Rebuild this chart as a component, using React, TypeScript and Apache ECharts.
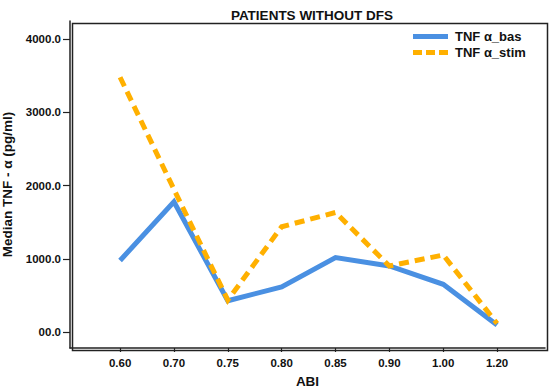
import React, { useEffect, useRef } from "react";
import * as echarts from "echarts";

const categories = ["0.60", "0.70", "0.75", "0.80", "0.85", "0.90", "1.00", "1.20"];
const basValues = [980, 1780, 430, 620, 1020, 905, 655, 100];
const stimValues = [3480, 1950, 440, 1440, 1635, 905, 1055, 120];
const yTicks = [0, 1000, 2000, 3000, 4000];

const FONT = "Liberation Sans, Arial, sans-serif";
const AXIS_COLOR = "#222";
const GRID = { left: 70, right: 5, top: 21, bottom: 43 };
const W = 550;
const H = 391;

export default function App() {
  const ref = useRef<HTMLDivElement>(null);
  useEffect(() => {
    if (!ref.current) return;
    const chart = echarts.init(ref.current, undefined, { renderer: "svg", width: W, height: H });
    const idx = categories.map((_, i) => i);
    chart.setOption({
      animation: false,
      backgroundColor: "#ffffff",
      textStyle: { fontFamily: FONT },
      title: {
        text: "PATIENTS WITHOUT DFS",
        left: 307,
        textAlign: "center",
        top: 3,
        textStyle: { fontFamily: FONT, fontWeight: "bold", fontSize: 13.5, color: "#111" },
      },
      legend: {
        orient: "vertical",
        left: 408,
        top: 25,
        itemWidth: 35,
        itemHeight: 8,
        itemGap: 3,
        textStyle: { fontFamily: FONT, fontWeight: "bold", fontSize: 13, color: "#111", padding: [0, 0, 0, 2] },
        data: [
          { name: "TNF α_bas", icon: "path://M0,0 L35,0 L35,5 L0,5 Z" },
          { name: "TNF α_stim", icon: "path://M0,0 L9,0 L9,5 L0,5 Z M13,0 L22,0 L22,5 L13,5 Z M26,0 L35,0 L35,5 L26,5 Z" },
        ],
      },
      graphic: [
        {
          type: "rect",
          left: GRID.left,
          top: GRID.top,
          shape: { x: 0, y: 0, width: W - GRID.left - GRID.right, height: H - GRID.top - GRID.bottom },
          style: { fill: "none", stroke: AXIS_COLOR, lineWidth: 1.5 },
          silent: true,
          z: 10,
        },
      ],
      grid: {
        ...GRID,
        containLabel: false,
        outerBoundsMode: "none",
      },
      xAxis: {
        type: "value",
        min: -0.93,
        max: 7.89,
        name: "ABI",
        nameLocation: "middle",
        nameGap: 26,
        nameTextStyle: { fontFamily: FONT, fontWeight: "bold", fontSize: 13.5, color: "#111" },
        axisLine: { show: true, onZero: false, lineStyle: { color: AXIS_COLOR, width: 1.5 } },
        axisTick: { show: true, customValues: idx, length: 4, lineStyle: { color: AXIS_COLOR, width: 1.2 } },
        axisLabel: {
          customValues: idx,
          formatter: (v: number) => categories[Math.round(v)] ?? "",
          fontFamily: FONT,
          fontWeight: "bold",
          fontSize: 11.5,
          color: "#111",
          margin: 9,
        },
        splitLine: { show: false },
      },
      yAxis: {
        type: "value",
        min: -214,
        max: 4247,
        name: "Median TNF - α (pg/ml)",
        nameLocation: "middle",
        nameGap: 50,
        nameTextStyle: { fontFamily: FONT, fontWeight: "bold", fontSize: 13.5, color: "#111" },
        axisLine: { show: true, onZero: false, lineStyle: { color: AXIS_COLOR, width: 1.5 } },
        axisTick: { show: true, customValues: yTicks, length: 7, lineStyle: { color: AXIS_COLOR, width: 1.2 } },
        axisLabel: {
          customValues: yTicks,
          formatter: (v: number) => (v === 0 ? "00.0" : v.toFixed(1)),
          fontFamily: FONT,
          fontWeight: "bold",
          fontSize: 11.5,
          color: "#111",
          margin: 9,
        },
        splitLine: { show: false },
      },
      series: [
        {
          name: "TNF α_bas",
          type: "line",
          symbol: "none",
          data: basValues.map((v, i) => [i, v]),
          lineStyle: { color: "#4A90E2", width: 5, join: "miter" },
          itemStyle: { color: "#4A90E2" },
          z: 2,
        },
        {
          name: "TNF α_stim",
          type: "line",
          symbol: "none",
          data: stimValues.map((v, i) => [i, v]),
          lineStyle: { color: "#FFB000", width: 5, type: [10, 6], join: "miter" },
          itemStyle: { color: "#FFB000" },
          z: 3,
        },
      ],
    });
    return () => chart.dispose();
  }, []);
  return (
    <div
      ref={ref}
      style={{ position: "fixed", left: 0, top: 0, width: W, height: H, background: "#fff" }}
    />
  );
}
